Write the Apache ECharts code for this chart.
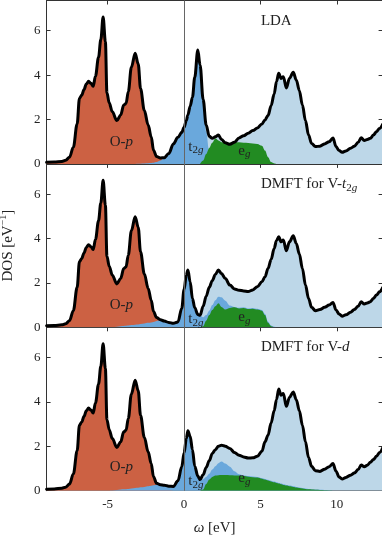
<!DOCTYPE html>
<html>
<head>
<meta charset="utf-8">
<script src="https://cdn.jsdelivr.net/npm/echarts@6/dist/echarts.min.js"></script>
<style>
  html, body { margin: 0; padding: 0; background: #fff; }
  #main { width: 382px; height: 535px; }
</style>
</head>
<body>
<div id="main"></div>
<script>
// energy grid (eV), shared by every curve
const omega = [
  -9, -8.5, -8, -7.75, -7.5, -7.25, -7, -6.85, -6.7, -6.55,
  -6.4, -6.25, -6.1, -5.95, -5.8, -5.6, -5.45, -5.3, -5.15, -5.05,
  -4.9, -4.7, -4.4, -4.15, -3.95, -3.8, -3.65, -3.45, -3.2, -3.0,
  -2.85, -2.6, -2.35, -2.15, -2.0, -1.8, -1.55, -1.3, -1.0, -0.7,
  -0.4, -0.15, 0, 0.15, 0.25, 0.4, 0.55, 0.7, 0.9, 1.05,
  1.25, 1.45, 1.65, 1.85, 2.05, 2.25, 2.45, 2.7, 3.0, 3.3,
  3.6, 3.9, 4.2, 4.5, 4.8, 5.1, 5.3, 5.5, 5.7, 5.9,
  6.05, 6.2, 6.35, 6.5, 6.7, 6.9, 7.15, 7.35, 7.55, 7.75,
  7.95, 8.15, 8.35, 8.6, 8.9, 9.2, 9.5, 9.75, 9.95, 10.15,
  10.35, 10.6, 10.9, 11.15, 11.4, 11.6, 11.8, 12.0, 12.2, 12.4,
  12.6, 12.8, 13
];

// total DOS per panel
const ldaTotal = [
  0.07, 0.08, 0.11, 0.16, 0.3, 0.75, 1.8, 2.95, 3.1, 3.35,
  3.6, 3.72, 3.63, 3.5, 3.95, 4.8, 5.6, 6.62, 5.5, 3.2,
  2.75, 2.35, 1.95, 2.2, 2.65, 2.72, 3.25, 4.35, 4.98, 4.5,
  3.4, 2.4, 1.75, 1.22, 0.62, 0.33, 0.27, 0.28, 0.47, 0.9,
  1.2, 1.42, 1.65, 1.95, 2.2, 2.6, 3.0, 3.9, 5.13, 4.45,
  2.9, 1.75, 1.24, 1.15, 1.22, 1.3, 1.1, 0.95, 0.88, 0.98,
  1.17, 1.27, 1.38, 1.5, 1.62, 1.8, 1.98, 2.18, 2.62, 3.15,
  3.7, 4.08, 3.85, 3.93, 3.42, 3.85, 4.13, 3.78, 3.3, 2.65,
  1.95, 1.3, 0.92, 0.78, 0.8, 0.9, 1.0, 1.17, 0.78, 0.6,
  0.52, 0.58, 0.7, 0.8, 0.97, 1.18, 1.05, 1.1, 1.15, 1.3,
  1.45, 1.6, 1.78
];
const dmftTTotal = [
  0.07, 0.08, 0.11, 0.16, 0.3, 0.75, 1.8, 2.95, 3.1, 3.35,
  3.6, 3.72, 3.63, 3.5, 3.95, 4.8, 5.6, 6.62, 5.5, 3.2,
  2.75, 2.35, 1.95, 2.2, 2.65, 2.72, 3.25, 4.35, 4.98, 4.5,
  3.4, 2.4, 1.75, 1.22, 0.71, 0.44, 0.34, 0.28, 0.22, 0.18,
  0.24, 0.86, 1.7, 2.35, 2.58, 2.05, 1.3, 0.88, 0.58, 0.54,
  0.95, 1.4, 1.8, 2.1, 2.38, 2.58, 2.42, 2.2, 1.9, 1.73,
  1.67, 1.64, 1.61, 1.68, 1.83, 2.05, 2.28, 2.65, 3.05, 3.55,
  3.9, 4.08, 3.85, 3.93, 3.45, 3.85, 4.12, 3.78, 3.3, 2.65,
  1.9, 1.3, 0.9, 0.75, 0.8, 0.9, 1.0, 1.12, 0.78, 0.6,
  0.5, 0.56, 0.68, 0.8, 0.95, 1.15, 1.05, 1.1, 1.15, 1.3,
  1.45, 1.6, 1.78
];
const dmftDTotal = [
  0.07, 0.08, 0.11, 0.16, 0.3, 0.75, 1.8, 2.95, 3.1, 3.35,
  3.6, 3.72, 3.63, 3.5, 3.95, 4.8, 5.6, 6.62, 5.5, 3.2,
  2.75, 2.35, 1.95, 2.2, 2.65, 2.72, 3.25, 4.35, 4.98, 4.5,
  3.4, 2.4, 1.75, 1.22, 0.63, 0.33, 0.27, 0.25, 0.2, 0.19,
  0.45, 1.08, 1.7, 2.35, 2.7, 2.45, 1.85, 1.1, 0.66, 0.5,
  0.72, 1.05, 1.35, 1.68, 1.85, 2.0, 2.05, 2.0, 1.9, 1.72,
  1.6, 1.52, 1.47, 1.48, 1.55, 1.78, 2.2, 2.5, 3.05, 3.6,
  4.1, 4.58, 4.3, 4.38, 3.8, 4.2, 4.45, 4.1, 3.6, 2.95,
  2.2, 1.5, 1.1, 0.9, 0.87, 0.97, 1.08, 1.22, 0.88, 0.62,
  0.53, 0.6, 0.7, 0.8, 0.95, 1.16, 1.08, 1.15, 1.28, 1.4,
  1.55, 1.72, 1.92
];

// O-p (top edge of the orange fill), omega[0..39]
const ldaOp = [
  0.07, 0.08, 0.11, 0.16, 0.3, 0.75, 1.8, 2.95, 3.1, 3.35,
  3.6, 3.72, 3.63, 3.5, 3.95, 4.8, 5.6, 6.62, 5.5, 3.2,
  2.75, 2.35, 1.95, 2.2, 2.65, 2.72, 3.25, 4.35, 4.98, 4.5,
  3.4, 2.4, 1.75, 1.22, 0.62, 0.33, 0.25, 0.15, 0.05, 0
];
const dmftTOp = [
  0.07, 0.08, 0.11, 0.16, 0.3, 0.75, 1.8, 2.95, 3.1, 3.35,
  3.6, 3.72, 3.63, 3.5, 3.95, 4.8, 5.6, 6.62, 5.5, 3.2,
  2.75, 2.35, 1.95, 2.2, 2.65, 2.72, 3.25, 4.35, 4.98, 4.5,
  3.4, 2.4, 1.75, 1.22, 0.71, 0.44, 0.3, 0.12, 0.03, 0
];
const dmftDOp = [
  0.07, 0.08, 0.11, 0.16, 0.3, 0.75, 1.8, 2.95, 3.1, 3.35,
  3.6, 3.72, 3.63, 3.5, 3.95, 4.8, 5.6, 6.62, 5.5, 3.2,
  2.75, 2.35, 1.95, 2.2, 2.65, 2.72, 3.25, 4.35, 4.98, 4.5,
  3.4, 2.4, 1.75, 1.22, 0.63, 0.33, 0.25, 0.1, 0.03, 0
];

// V-t2g (top edge of the blue fill), from omega[20]
const T2G_FROM = 20;
const ldaT2g = [
  0, 0, 0, 0, 0, 0, 0, 0, 0, 0.005,
  0.01, 0.02, 0.03, 0.04, 0.05, 0.08, 0.15, 0.28, 0.47, 0.9,
  1.2, 1.42, 1.65, 1.95, 2.2, 2.6, 3.0, 3.9, 5.13, 4.45,
  2.9, 1.45, 0.55, 0.25, 0.15, 0.1, 0.08, 0.06, 0.05, 0.04,
  0.03, 0.02, 0.01
];
const dmftTT2g = [
  0, 0.01, 0.03, 0.05, 0.06, 0.07, 0.08, 0.1, 0.12, 0.13,
  0.15, 0.17, 0.2, 0.22, 0.24, 0.28, 0.34, 0.28, 0.22, 0.18,
  0.24, 0.86, 1.7, 2.35, 2.58, 2.05, 1.3, 0.88, 0.58, 0.54,
  0.45, 0.55, 0.75, 1.0, 1.22, 1.38, 1.35, 1.2, 0.98, 0.92,
  0.88, 0.9, 0.85, 0.87, 0.83, 0.78, 0.6, 0.25, 0.08, 0.02, 0
];
const dmftDT2g = [
  0, 0.01, 0.03, 0.05, 0.06, 0.07, 0.08, 0.1, 0.12, 0.13,
  0.15, 0.17, 0.2, 0.22, 0.24, 0.27, 0.27, 0.25, 0.2, 0.19,
  0.45, 1.08, 1.7, 2.35, 2.7, 2.45, 1.85, 1.1, 0.66, 0.5,
  0.52, 0.62, 0.76, 0.95, 1.1, 1.24, 1.31, 1.22, 1.08, 0.88,
  0.74, 0.69, 0.66, 0.64, 0.62, 0.57, 0.53, 0.49, 0.45, 0.41,
  0.38, 0.35, 0.32, 0.29, 0.26, 0.23, 0.2, 0.17, 0.14, 0.12,
  0.1, 0.08, 0.07, 0.05, 0.04, 0.03, 0.02, 0.01
];

// V-eg (green fill), from omega[49]
const EG_FROM = 49;
const ldaEg = [
  0, 0.15, 0.45, 0.72, 0.95, 1.15, 1.05, 0.98, 0.95, 0.95, 0.96,
  0.97, 0.95, 0.94, 0.92, 0.9, 0.82, 0.6, 0.3, 0.08, 0.02, 0
];
const dmftTEg = [
  0, 0.05, 0.3, 0.55, 0.78, 0.95, 1.08, 0.92, 0.8, 0.87, 0.9,
  0.85, 0.87, 0.82, 0.84, 0.8, 0.75, 0.55, 0.2, 0.05, 0
];
const dmftDEg = [
  0, 0.05, 0.3, 0.5, 0.62, 0.68, 0.7, 0.71, 0.71, 0.7, 0.69,
  0.68, 0.66, 0.63, 0.61, 0.59, 0.54, 0.5, 0.46, 0.42, 0.38,
  0.35, 0.32, 0.29, 0.26, 0.23, 0.2, 0.17, 0.14, 0.12, 0.1,
  0.08, 0.06, 0.05, 0.04, 0.03, 0.02, 0.01, 0
];

const xTicks = [-5, 0, 5, 10];
const yTicks = [0, 2, 4, 6];

const panels = [
  { total: ldaTotal, op: ldaOp, t2g: ldaT2g, eg: ldaEg },
  { total: dmftTTotal, op: dmftTOp, t2g: dmftTT2g, eg: dmftTEg },
  { total: dmftDTotal, op: dmftDOp, t2g: dmftDT2g, eg: dmftDEg }
];

const FONT = '"Liberation Serif", "DejaVu Serif", serif';
const TXT = '#222';
const AX = '#333';
const colTotal = '#BDD7E8';
const colOp = '#CC6143';
const colT2g = '#6AA8DC';
const colEg = '#228B22';

const gridTop = [0.5, 163.9, 327.3];
const gridH = 163.4;

const chart = echarts.init(document.getElementById('main'), null, { renderer: 'canvas' });

const grids = gridTop.map(t => ({
  left: 46.6, width: 336, top: t, height: gridH,
  containLabel: false, outerBoundsMode: 'none'
}));

function xAxisFor(i, pos) {
  const labels = (i === 2 && pos === 'bottom');
  return {
    type: 'value', gridIndex: i, position: pos, min: -9, max: 13,
    axisLine: { show: true, onZero: false, lineStyle: { color: AX, width: 1 } },
    axisTick: { show: true, inside: true, length: 4, customValues: xTicks, lineStyle: { color: AX } },
    axisLabel: { show: labels, customValues: xTicks, margin: 7, color: TXT, fontFamily: FONT, fontSize: 13 },
    splitLine: { show: false },
    name: labels ? '{it|ω} [eV]' : '',
    nameLocation: 'middle', nameGap: 30,
    nameTextStyle: { color: TXT, fontFamily: FONT, fontSize: 15,
      rich: { it: { fontStyle: 'italic', fontFamily: FONT, fontSize: 15, color: TXT } } }
  };
}
function yAxisFor(i, pos) {
  const labels = pos === 'left';
  return {
    type: 'value', gridIndex: i, position: pos, min: 0, max: 7.36,
    axisLine: { show: true, onZero: false, lineStyle: { color: AX, width: 1 } },
    axisTick: { show: true, inside: true, length: 4, customValues: yTicks, lineStyle: { color: AX } },
    axisLabel: { show: labels, customValues: yTicks, margin: 6, color: TXT, fontFamily: FONT, fontSize: 13 },
    splitLine: { show: false },
    name: (i === 1 && labels) ? 'DOS [eV{sup|−1}]' : '',
    nameLocation: 'middle', nameGap: 30,
    nameTextStyle: { color: TXT, fontFamily: FONT, fontSize: 15,
      rich: { sup: { fontSize: 10, fontFamily: FONT, color: TXT, verticalAlign: 'top', padding: [0, 0, 8, 0] } } }
  };
}

const xAxes = [], yAxes = [];
for (let i = 0; i < 3; i++) {
  xAxes.push(xAxisFor(i, 'bottom'), xAxisFor(i, 'top'));
  yAxes.push(yAxisFor(i, 'left'), yAxisFor(i, 'right'));
}

function fill(i, name, from, ys, color) {
  return {
    type: 'line', name: name, xAxisIndex: i * 2, yAxisIndex: i * 2,
    data: ys.map((v, k) => [omega[from + k], v]),
    smooth: 0.35, smoothMonotone: 'x', symbol: 'none', silent: true,
    lineStyle: { width: 0, opacity: 0 },
    areaStyle: { color: color, opacity: 1 },
    z: 2, animation: false
  };
}

const series = [];
panels.forEach((p, i) => {
  series.push(fill(i, 'total', 0, p.total, colTotal));
  series.push(fill(i, 'O-p', 0, p.op, colOp));
  series.push(fill(i, 't2g', T2G_FROM, p.t2g, colT2g));
  series.push(fill(i, 'eg', EG_FROM, p.eg, colEg));
  series.push({
    type: 'line', name: 'DOS', xAxisIndex: i * 2, yAxisIndex: i * 2,
    data: p.total.map((v, k) => [omega[k], v]),
    smooth: 0.35, smoothMonotone: 'x', symbol: 'none', silent: true,
    lineStyle: { color: '#000', width: 3, join: 'round', cap: 'round' },
    z: 4, animation: false,
    markLine: {
      silent: true, symbol: ['none', 'none'], animation: false,
      label: { show: false },
      lineStyle: { color: '#666', width: 1, type: 'solid' },
      data: [{ xAxis: 0 }]
    }
  });
});

chart.setOption({
  backgroundColor: '#fff',
  animation: false,
  grid: grids,
  xAxis: xAxes,
  yAxis: yAxes,
  series: series
});

// text annotations anchored in data coordinates
const rich = {
  it: { fontStyle: 'italic', fontFamily: FONT, fontSize: 15, fill: TXT },
  sub: { fontFamily: FONT, fontSize: 11, fill: TXT, verticalAlign: 'bottom', padding: [8, 0, 0, 0] },
  subit: { fontFamily: FONT, fontStyle: 'italic', fontSize: 11, fill: TXT, verticalAlign: 'bottom', padding: [8, 0, 0, 0] }
};
const notes = [
  { g: 0, at: [5.03, 6.45], text: 'LDA', align: 'left' },
  { g: 1, at: [5.03, 6.45], text: 'DMFT for V-{it|t}{sub|2}{subit|g}', align: 'left' },
  { g: 2, at: [5.03, 6.45], text: 'DMFT for V-{it|d}', align: 'left' },
  { g: 0, at: [-4.1, 1.0], text: 'O-{it|p}', align: 'center' },
  { g: 1, at: [-4.1, 0.98], text: 'O-{it|p}', align: 'center' },
  { g: 2, at: [-4.1, 1.05], text: 'O-{it|p}', align: 'center' },
  { g: 0, at: [0.28, 0.78], text: 't{sub|2}{subit|g}', align: 'left' },
  { g: 1, at: [0.28, 0.35], text: 't{sub|2}{subit|g}', align: 'left' },
  { g: 2, at: [0.28, 0.44], text: 't{sub|2}{subit|g}', align: 'left' },
  { g: 0, at: [3.55, 0.6], text: 'e{subit|g}', align: 'left' },
  { g: 1, at: [3.55, 0.48], text: 'e{subit|g}', align: 'left' },
  { g: 2, at: [3.55, 0.57], text: 'e{subit|g}', align: 'left' }
];
const graphic = notes.map(n => {
  const px = chart.convertToPixel({ gridIndex: n.g }, n.at);
  return {
    type: 'text', x: px[0], y: px[1], z: 10, silent: true,
    style: {
      text: n.text, fontFamily: FONT, fontSize: 15, fill: TXT,
      align: n.align, verticalAlign: 'middle', rich: rich
    }
  };
});
chart.setOption({ graphic: graphic });
</script>
</body>
</html>
